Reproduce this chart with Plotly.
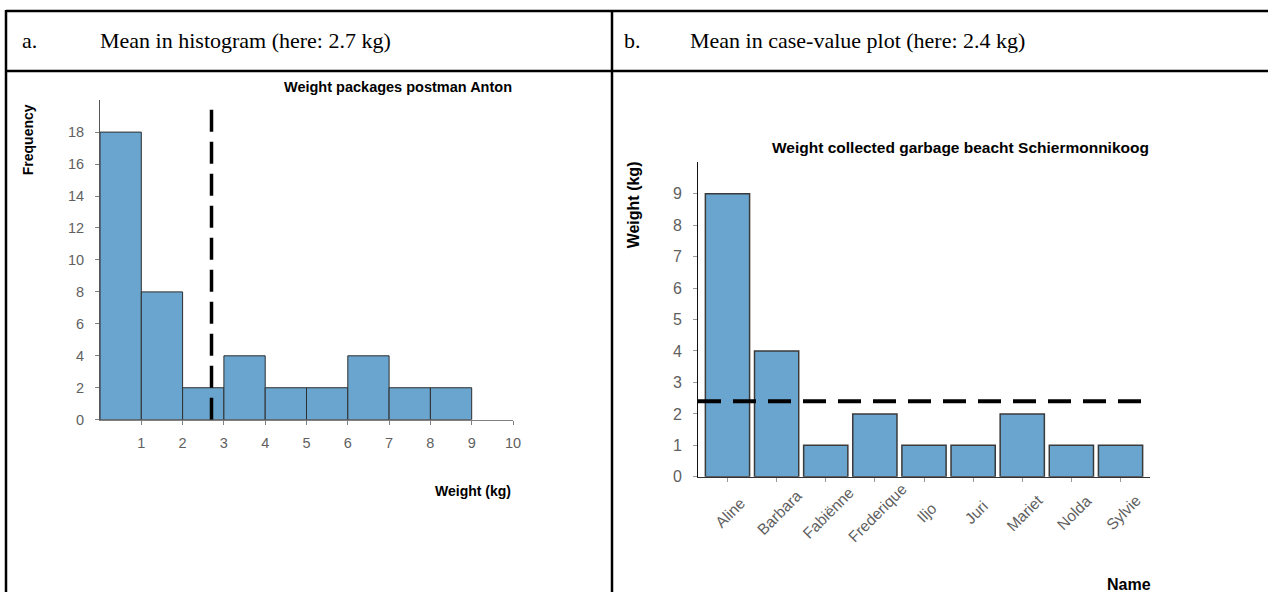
import plotly.graph_objects as go

W, H = 1268, 592          # reference coordinate frame
FIG_W, FIG_H = 1276, 602  # rendered figure size

# ---- data: panel a (histogram) ----
bin_edges = [0, 1, 2, 3, 4, 5, 6, 7, 8, 9]
frequencies = [18, 8, 2, 4, 2, 2, 4, 2, 2]
mean_a = 2.7
x_ticks_a = [1, 2, 3, 4, 5, 6, 7, 8, 9, 10]
y_ticks_a = [0, 2, 4, 6, 8, 10, 12, 14, 16, 18]

# ---- data: panel b (case-value plot) ----
names = ["Aline", "Barbara", "Fabiënne", "Frederique", "Iljo", "Juri", "Mariet", "Nolda", "Sylvie"]
weights = [9, 4, 1, 2, 1, 1, 2, 1, 1]
mean_b = 2.4
y_ticks_b = [0, 1, 2, 3, 4, 5, 6, 7, 8, 9]

header_a = ("a.", "Mean in histogram (here: 2.7 kg)")
header_b = ("b.", "Mean in case-value plot (here: 2.4 kg)")


def px(x):
    return x / W


def py(y):
    return 1 - y / H


SANS = "Liberation Sans, Arial, sans-serif"
SERIF = "Liberation Serif, Times New Roman, serif"
TICK = "#5f5f5f"
BAR = "#69a5ce"

centers = [(a + b) / 2 for a, b in zip(bin_edges[:-1], bin_edges[1:])]
widths = [b - a for a, b in zip(bin_edges[:-1], bin_edges[1:])]

fig = go.Figure()
fig.add_trace(go.Bar(
    x=centers, y=frequencies, width=widths,
    marker=dict(color=BAR, line=dict(color="#2e2e2e", width=1)),
    xaxis="x", yaxis="y", hoverinfo="x+y", showlegend=False,
))
fig.add_trace(go.Bar(
    x=names, y=weights,
    marker=dict(color=BAR, line=dict(color="#3a3a3a", width=1.5)),
    xaxis="x2", yaxis="y2", showlegend=False,
))

shapes = []
# table borders
line_w = 2.5
shapes.append(dict(type="line", xref="paper", yref="paper", x0=px(6), x1=1, y0=py(11), y1=py(11),
                   line=dict(color="black", width=line_w)))
shapes.append(dict(type="line", xref="paper", yref="paper", x0=px(6), x1=1, y0=py(71), y1=py(71),
                   line=dict(color="black", width=line_w)))
shapes.append(dict(type="line", xref="paper", yref="paper", x0=px(6), x1=px(6), y0=py(10), y1=0,
                   line=dict(color="black", width=line_w)))
shapes.append(dict(type="line", xref="paper", yref="paper", x0=px(612), x1=px(612), y0=py(10), y1=0,
                   line=dict(color="black", width=line_w)))
# mean lines
shapes.append(dict(type="line", xref="x", yref="y", x0=mean_a, x1=mean_a, y0=0, y1=19.9,
                   line=dict(color="black", width=3.5, dash="22px,10px"), layer="above"))
shapes.append(dict(type="line", xref="x2", yref="y2", x0=-0.6, x1=8.45, y0=mean_b, y1=mean_b,
                   line=dict(color="black", width=4, dash="23px,12px"), layer="above"))

annotations = []


def ann(text, x, y, size=14, bold=False, color="black", angle=0, xanchor="center", font=SANS,
        xref="paper", xshift=0):
    annotations.append(dict(
        text=("<b>%s</b>" % text) if bold else text,
        x=x if xref != "paper" else px(x), y=py(y), xref=xref, yref="paper",
        showarrow=False, textangle=angle, xanchor=xanchor, yanchor="middle",
        font=dict(family=font, size=size, color=color), xshift=xshift,
    ))


# headers
ann(header_a[0], 20, 40, size=22, xanchor="left", font=SERIF)
ann(header_a[1], 98, 40, size=22, xanchor="left", font=SERIF)
ann(header_b[0], 622, 40, size=22, xanchor="left", font=SERIF)
ann(header_b[1], 688, 40, size=22, xanchor="left", font=SERIF)

# panel a titles
ann("Weight packages postman Anton", 398, 87, size=14.5, bold=True)
ann("Frequency", 28, 140, bold=True, angle=-90)
ann("Weight (kg)", 473, 490, bold=True)

# panel b titles
ann("Weight collected garbage beacht Schiermonnikoog", 960, 147, size=15.5, bold=True)
ann("Weight (kg)", 633, 205, size=16, bold=True, angle=-90)
ann("Name", 1129, 584, size=16, bold=True)

# rotated category labels, centred on their ticks
for n in names:
    ann(n, n, 512, size=15.5, color=TICK, angle=-45, xref="x2", xshift=3)

axis_common = dict(showgrid=False, zeroline=False, showline=True, ticks="outside", ticklen=4,
                   fixedrange=True)

fig.update_layout(
    width=FIG_W, height=FIG_H,
    margin=dict(l=0, r=0, t=0, b=0),
    paper_bgcolor="white", plot_bgcolor="white",
    bargap=0.1,
    xaxis=dict(domain=[px(100), px(513)], range=[0, 10], anchor="y", tickvals=x_ticks_a,
               linecolor="#808080", tickcolor="#808080", ticklabelstandoff=6,
               tickfont=dict(family=SANS, size=14.5, color=TICK), **axis_common),
    yaxis=dict(domain=[py(419), py(100)], range=[0, 20], anchor="x", tickvals=y_ticks_a,
               linecolor="#555555", tickcolor="#808080", ticklabelstandoff=8,
               tickfont=dict(family=SANS, size=14.5, color=TICK), **axis_common),
    xaxis2=dict(domain=[px(698), px(1150)], range=[-0.6, 8.6], anchor="y2", type="category",
                showticklabels=False, linecolor="#333333", tickcolor="#999999", **axis_common),
    yaxis2=dict(domain=[py(476), py(162)], range=[0, 10], anchor="x2", tickvals=y_ticks_b,
                linecolor="#111111", tickcolor="#999999", ticklabelstandoff=8,
                tickfont=dict(family=SANS, size=16, color=TICK), **axis_common),
    shapes=shapes,
    annotations=annotations,
)

post = (
    "var s=document.createElement('style');"
    "s.textContent='html,body{margin:0;padding:0;overflow:hidden;}"
    ".plotly-graph-div{display:block;}';"
    "document.head.appendChild(s);"
)
fig.write_html("out.html", config={"displayModeBar": False}, post_script=post)
